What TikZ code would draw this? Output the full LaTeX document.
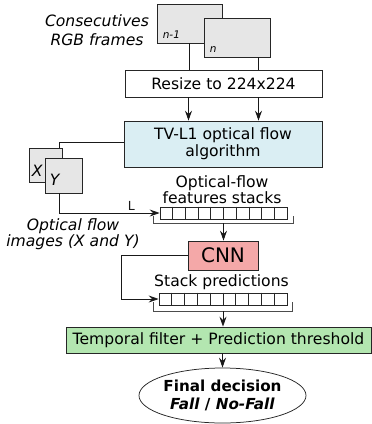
\documentclass[tikz,border=0pt]{standalone}
\usepackage{fontspec}
\setmainfont{DejaVu Sans}
\usepackage{xcolor}
\usepackage{tikz}
\usetikzlibrary{arrows.meta,calc,positioning,shapes.geometric}
\definecolor{framegray}{HTML}{E6E6E6}
\definecolor{flowblue}{HTML}{DAEEF3}
\definecolor{cnnred}{HTML}{F4A8A8}
\definecolor{filtgreen}{HTML}{B3E6B0}
\tikzset{
  node distance=1.2cm,
  box/.style={draw=black!85,line width=0.75pt,inner sep=0pt,align=center,
              font=\fontsize{15.6}{17}\selectfont},
  caption/.style={align=center,inner sep=0pt,font=\fontsize{15.6}{16}\selectfont},
  stackbox/.style={draw=black!85,line width=0.75pt,inner sep=0pt,fill=white,
              minimum height=12pt}
}

\begin{document}
\begin{tikzpicture}[x=1pt,y=-1pt]
          \useasboundingbox (0,0) rectangle (372,424);
          \begin{scope}
              % input frames
              \node[box,fill=framegray,minimum width=65pt,minimum height=39pt] (frame1) at (189.5,23.5) {};
              \node[box,fill=framegray,minimum width=66pt,minimum height=39pt] (frame2) at (237,37.5) {};
              \node[anchor=south west,inner sep=0pt,font=\fontsize{10.5}{12}\selectfont\itshape] (lab1)
                    at ([xshift=6pt,yshift=5pt]frame1.south west) {n-1};
              \node[anchor=south west,inner sep=0pt,font=\fontsize{10.5}{12}\selectfont\itshape] (lab2)
                    at ([xshift=6pt,yshift=5pt]frame2.south west) {n};
              \node[caption,font=\fontsize{15.6}{19}\selectfont\itshape] (capframes) at (97,30) {Consecutives\\RGB frames};

              \node[box,minimum width=197pt,minimum height=27pt] (resize) at (223.5,83.5) {Resize to 224x224};
              \node[box,fill=flowblue,minimum width=198pt,minimum height=46pt] (tvl1) at (223,144)
                    {TV-L1 optical flow\\algorithm};

              % optical flow images
              \node[box,fill=framegray,minimum width=33pt,minimum height=34pt] (xbox) at (45.5,165) {};
              \node[anchor=south west,inner sep=0pt,font=\fontsize{15.6}{17}\selectfont\itshape] (labx)
                    at ([xshift=3pt,yshift=6pt]xbox.south west) {X};
              \node[box,fill=framegray,minimum width=37pt,minimum height=35pt] (ybox) at (63.5,175.5) {};
              \node[anchor=south west,inner sep=0pt,font=\fontsize{15.6}{17}\selectfont\itshape] (laby)
                    at ([xshift=5pt,yshift=8pt]ybox.south west) {Y};
              \node[caption,font=\fontsize{15.6}{15}\selectfont\itshape] (capflow) at (73,234) {Optical flow\\images (X and Y)};

              % features stack
              \node[caption] (capstackA) at (222,190) {Optical-flow\\features stacks};
              \node[stackbox,minimum width=127pt] (stackA) at (223.5,213) {};
              \foreach \i in {1,...,9}
                  \draw[line width=0.75pt,black!85] ($(stackA.north west)!\i/10!(stackA.north east)$)
                        -- ($(stackA.south west)!\i/10!(stackA.south east)$);
              \draw[line width=0.75pt,black!70] ([xshift=-6pt,yshift=3pt]stackA.south west) |- ([yshift=-4pt]stackA.south)
                    -| ([xshift=6pt,yshift=3pt]stackA.south east);
              \coordinate (stackAbot) at ([yshift=-4pt]stackA.south);

              \node[box,fill=cnnred,minimum width=70pt,minimum height=29pt,
                    font=\fontsize{20}{22}\selectfont] (cnn) at (223,255.5) {CNN};

              % prediction stack
              \node[caption] (capstackB) at (221.5,282) {Stack predictions};
              \node[stackbox,minimum width=128pt] (stackB) at (223,299) {};
              \foreach \i in {1,...,9}
                  \draw[line width=0.75pt,black!85] ($(stackB.north west)!\i/10!(stackB.north east)$)
                        -- ($(stackB.south west)!\i/10!(stackB.south east)$);
              \draw[line width=0.75pt,black!70] ([xshift=-5pt,yshift=3pt]stackB.south west) |- ([yshift=-6pt]stackB.south)
                    -| ([xshift=5pt,yshift=3pt]stackB.south east);
              \coordinate (stackBbot) at ([yshift=-6pt]stackB.south);

              \node[box,fill=filtgreen,minimum width=305pt,minimum height=26pt] (filter) at (218.5,340)
                    {Temporal filter + Prediction threshold};
              \node[box,ellipse,fill=white,minimum width=141pt,minimum height=55pt,
                    font=\fontsize{15.2}{18}\selectfont\bfseries] (final) at (222.5,395.5)
                    {Final decision\\\textit{Fall} / \textit{No-Fall}};
          \end{scope}

          \begin{scope}[>={Stealth[length=10pt,width=7pt,inset=3.5pt]},
                        line width=0.8pt,
                        every edge/.style={draw=black!90,line width=0.8pt}]
              \path [-] (frame1.south) edge (frame1.south |- resize.north);
              \path [-] ([xshift=-12pt]frame2.south east) edge ([xshift=-12pt]frame2.south east |- resize.north);
              \path [->] ([xshift=-35pt]resize.south) edge ([xshift=-35pt]resize.south |- tvl1.north);
              \path [->] ([xshift=35pt]resize.south) edge ([xshift=35pt]resize.south |- tvl1.north);

              \draw[black!90] ([yshift=2pt]tvl1.west) -| ([xshift=-3pt]xbox.north east);
              \draw[->,black!90] ([xshift=-4.5pt]ybox.south) |- (stackA.west)
                    node[pos=0.86,above,inner sep=2pt,font=\fontsize{12.5}{14}\selectfont] (labL) {L};

              \path [->] (stackAbot) edge (stackAbot |- cnn.north);
              \draw[->,black!90] (cnn.west) -- ++(-66,0) |- (stackB.west);
              \path [->] (stackBbot) edge (stackBbot |- filter.north);
              \path [->] (filter.south -| final.north) edge (final.north);
          \end{scope}
\end{tikzpicture}
\end{document}
